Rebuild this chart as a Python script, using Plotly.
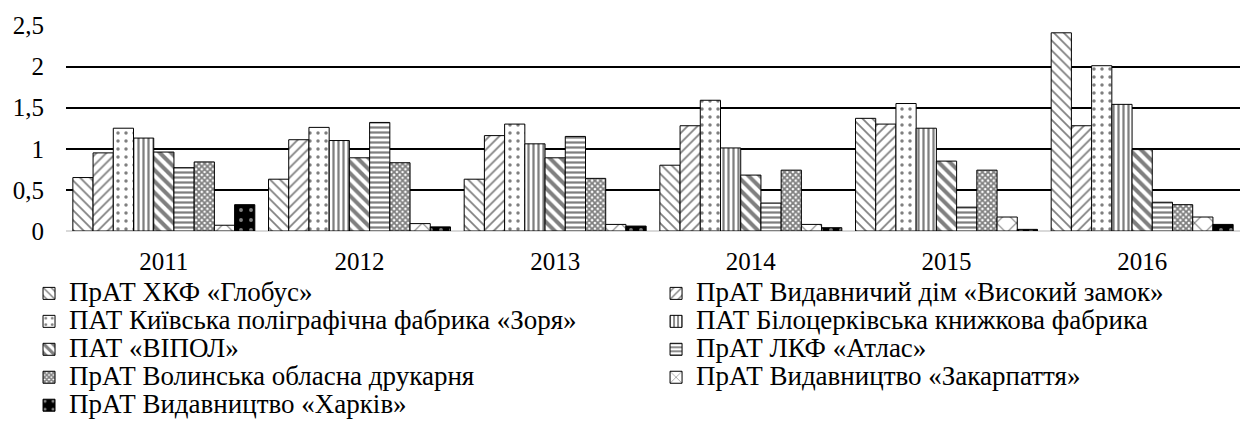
import plotly.graph_objects as go

years = ["2011", "2012", "2013", "2014", "2015", "2016"]
names = [
    "ПрАТ ХКФ «Глобус»",
    "ПрАТ Видавничий дім «Високий замок»",
    "ПАТ Київська поліграфічна фабрика «Зоря»",
    "ПАТ Білоцерківська книжкова фабрика",
    "ПАТ «ВІПОЛ»",
    "ПрАТ ЛКФ «Атлас»",
    "ПрАТ Волинська обласна друкарня",
    "ПрАТ Видавництво «Закарпаття»",
    "ПрАТ Видавництво «Харків»",
]
globus = [0.65, 0.63, 0.63, 0.80, 1.37, 2.41]
vysokyi = [0.95, 1.11, 1.16, 1.28, 1.30, 1.28]
zorya = [1.25, 1.26, 1.30, 1.59, 1.55, 2.01]
bila = [1.13, 1.10, 1.06, 1.01, 1.25, 1.54]
vipol = [0.96, 0.89, 0.89, 0.68, 0.85, 0.99]
atlas = [0.77, 1.32, 1.15, 0.34, 0.29, 0.35]
volyn = [0.84, 0.83, 0.64, 0.74, 0.74, 0.32]
zakarp = [0.07, 0.09, 0.08, 0.08, 0.17, 0.17]
kharkiv = [0.32, 0.05, 0.06, 0.04, 0.02, 0.08]
series = [globus, vysokyi, zorya, bila, vipol, atlas, volyn, zakarp, kharkiv]

y_ticks = [0, 0.5, 1, 1.5, 2, 2.5]
y_labels = ["0", "0,5", "1", "1,5", "2", "2,5"]

patterns = [
    dict(shape="\\", size=7, solidity=0.25, fgcolor="black", bgcolor="white"),
    dict(shape="/", size=7, solidity=0.25, fgcolor="black", bgcolor="white"),
    dict(shape=".", size=8, solidity=0.15, fgcolor="black", bgcolor="white"),
    dict(shape="|", size=5, solidity=0.45, fgcolor="black", bgcolor="white"),
    dict(shape="\\", size=8, solidity=0.5, fgcolor="black", bgcolor="white"),
    dict(shape="-", size=5, solidity=0.45, fgcolor="black", bgcolor="white"),
    dict(shape="x", size=4, solidity=0.7, fgcolor="black", bgcolor="white"),
    dict(shape="x", size=14, solidity=0.15, fgcolor="black", bgcolor="white"),
    dict(shape=".", size=10, solidity=0.12, fgcolor="white", bgcolor="black"),
]

FONT = "Liberation Serif, Times New Roman, serif"

fig = go.Figure()
for i, (nm, vals, pat) in enumerate(zip(names, series, patterns)):
    fig.add_trace(go.Bar(
        x=years, y=vals,
        name='<span style="font-size:27px">' + nm + '</span>',
        legend="legend" if i % 2 == 0 else "legend2",
        marker=dict(color="white", line=dict(color="black", width=1), pattern=pat),
    ))

legend_common = dict(
    orientation="v", yanchor="top", xanchor="left", itemwidth=30,
    font=dict(family=FONT, size=19.2, color="black"),
    bgcolor="rgba(0,0,0,0)", tracegroupgap=0,
)

fig.update_layout(
    width=1247, height=421,
    margin=dict(l=66, r=7, t=25, b=190, autoexpand=False),
    paper_bgcolor="white", plot_bgcolor="white",
    barmode="group", bargap=0.07, bargroupgap=0,
    font=dict(family=FONT, color="black", size=25),
    showlegend=True,
    legend=dict(x=-0.0315, y=-0.2107, **legend_common),
    legend2=dict(x=0.5026, y=-0.2107, **legend_common),
    xaxis=dict(showline=False, ticks="", tickfont=dict(size=25), ticklabelstandoff=13),
    yaxis=dict(
        range=[0, 2.505], tickvals=y_ticks, ticktext=y_labels,
        showgrid=True, gridcolor="black", gridwidth=1.8,
        zeroline=True, zerolinecolor="#d9d9d9", zerolinewidth=2,
        showline=False, ticks="", tickfont=dict(size=25), ticklabelstandoff=21,
    ),
)

fig.write_html("out.html", config={"displayModeBar": False},
               post_script="document.body.style.margin='0';")
